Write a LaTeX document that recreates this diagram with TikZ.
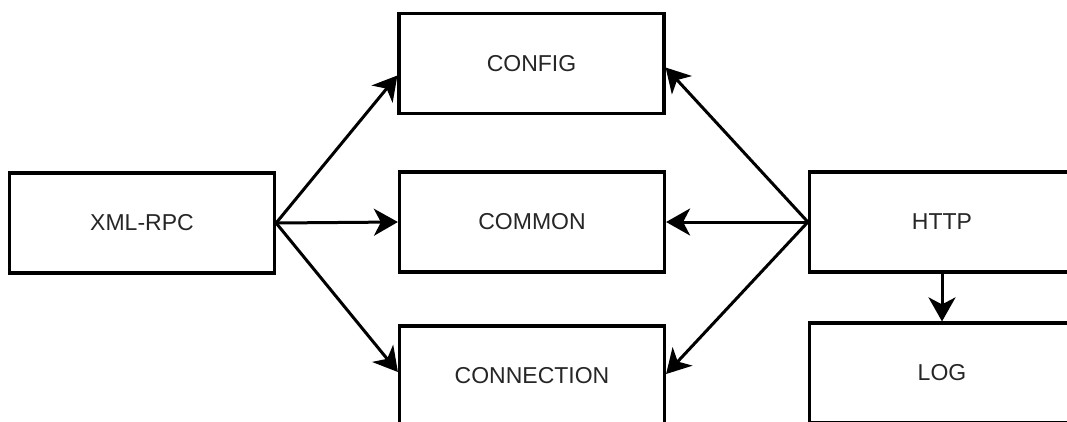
\documentclass[tikz,border=0pt]{standalone}
\usepackage{fontspec}
\setmainfont{Liberation Sans}
\usetikzlibrary{arrows.meta}
\begin{document}
\begin{tikzpicture}[x=1pt,y=-1pt,
  box/.style={draw=black, line width=3.2pt, minimum width=265pt, minimum height=100pt,
    inner sep=0pt, font=\fontsize{23}{26}\selectfont, text=black!85},
  link/.style={line width=3pt, -{Stealth[length=24pt,width=27pt,inset=7pt]}}]
\useasboundingbox (0,0) rectangle (1067,421);
\clip (0,0) rectangle (1067,421);
\fill[white] (0,0) rectangle (1067,421);
\node[box] (config) at (531.5,63.5) {CONFIG};
\node[box] (xml) at (142,223) {XML-RPC};
\node[box] (common) at (532,222) {COMMON};
\node[box] (conn) at (532,376) {CONNECTION};
\node[box] (http) at (942,222) {HTTP};
\node[box] (log) at (942,373) {LOG};
\draw[link] (xml.east) -- ([yshift=-12pt]config.west);
\draw[link] (xml.east) -- (common.west);
\draw[link] (xml.east) -- ([yshift=4pt]conn.west);
\draw[link] (http.west) -- ([yshift=-4pt]config.east);
\draw[link] (http.west) -- (common.east);
\draw[link] (http.west) -- ([yshift=2pt]conn.east);
\draw[link] (http.south) -- (log.north);
\end{tikzpicture}
\end{document}
